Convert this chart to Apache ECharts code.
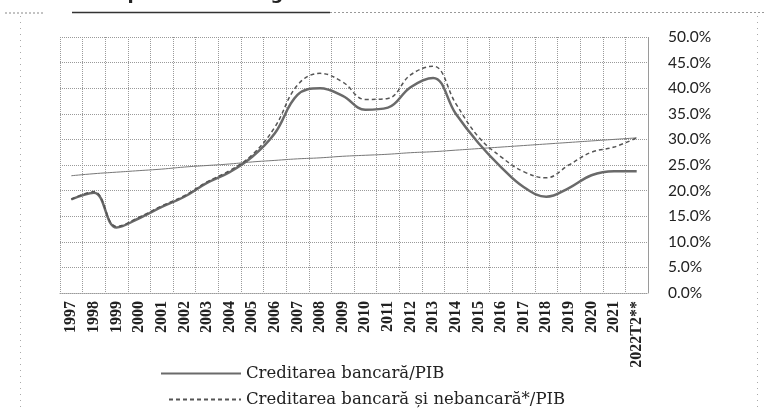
<!DOCTYPE html>
<html>
<head>
<meta charset="utf-8">
<script src="https://cdn.jsdelivr.net/npm/echarts@6/dist/echarts.min.js"></script>
<style>html,body{margin:0;padding:0;background:#fff}#c{width:765px;height:411px}</style>
</head>
<body>
<div id="c"></div>
<script>
const categories = ['1997','1998','1999','2000','2001','2002','2003','2004','2005','2006','2007','2008','2009','2010','2011','2012','2013','2014','2015','2016','2017','2018','2019','2020','2021','2022T2**'];
const bankCredit = [18.3,19.6,12.8,14.6,16.8,18.8,21.5,23.6,26.6,31.2,38.7,40.0,38.5,35.8,36.2,40.2,42.0,35.0,29.3,24.6,20.7,18.8,20.5,23.0,23.8,23.8];
const bankNonBankCredit = [18.3,19.8,13.0,14.8,17.0,19.0,21.7,23.9,27.0,32.4,40.6,42.9,41.2,37.8,38.0,42.6,44.3,37.0,30.5,26.6,23.7,22.5,25.0,27.5,28.5,30.3];
const trend = [22.9,23.3,23.6,23.9,24.2,24.6,24.9,25.2,25.6,25.9,26.2,26.4,26.7,26.9,27.1,27.4,27.6,27.9,28.2,28.5,28.8,29.1,29.4,29.7,30.0,30.3];
const seriesNames = ['Creditarea bancară/PIB','Creditarea bancară și nebancară*/PIB'];
const titleText = 'Creditarea pe termen lung';

const chart = echarts.init(document.getElementById('c'), null, {renderer:'canvas'});
const gridColor = '#9a9a9a';
const legendText = {fontFamily:'DejaVu Serif', fontSize:16.5, color:'#222'};
chart.setOption({
  animation:false,
  backgroundColor:'#fff',
  grid:{left:60,right:117,top:37,bottom:118,containLabel:false},
  legend:[
    {left:155, top:360, itemWidth:80, itemHeight:12, data:[seriesNames[0]],
     itemStyle:{opacity:0}, textStyle:legendText},
    {left:163, top:386, itemWidth:72, itemHeight:12, data:[seriesNames[1]],
     itemStyle:{opacity:0}, textStyle:legendText}
  ],
  xAxis:{
    type:'category', data:categories, boundaryGap:true,
    axisLine:{show:true,lineStyle:{color:gridColor,type:'dotted',width:1}},
    axisTick:{show:false},
    axisLabel:{rotate:90, interval:0, margin:8, fontFamily:'Liberation Serif', fontWeight:'bold', fontSize:16, color:'#222'},
    splitLine:{show:true, interval:0, lineStyle:{color:gridColor,type:'dotted',width:1}}
  },
  yAxis:{
    type:'value', position:'right', min:0, max:50, interval:5,
    axisLine:{show:true,lineStyle:{color:gridColor,type:'dotted',width:1}},
    axisTick:{show:false},
    axisLabel:{margin:20, fontFamily:'Lato', fontSize:15.5, color:'#222', formatter:v=>v.toFixed(1)+'%'},
    splitLine:{show:true, lineStyle:{color:gridColor,type:'dotted',width:1}}
  },
  series:[
    {name:seriesNames[0], type:'line', data:bankCredit, smooth:0.4, symbol:'none',
     lineStyle:{color:'#6a6a6a', width:2.5, type:'solid'}, itemStyle:{color:'#6a6a6a'}, z:3},
    {name:seriesNames[1], type:'line', data:bankNonBankCredit, smooth:0.4, symbol:'none',
     lineStyle:{color:'#555', width:1.5, type:[4,3]}, itemStyle:{color:'#555'}, z:4},
    {name:'trend', type:'line', data:trend, smooth:true, symbol:'none',
     lineStyle:{color:'#777', width:1, type:'solid'}, itemStyle:{color:'#777'}, z:2}
  ],
  graphic:[
    {type:'text', left:14, top:-15, style:{text:titleText, fontFamily:'DejaVu Sans', fontWeight:'bold', fontSize:18, fill:'#222'}},
    {type:'line', shape:{x1:5,y1:13,x2:45,y2:13}, style:{stroke:'#888',lineWidth:1,lineDash:[2,2]}},
    {type:'line', shape:{x1:72,y1:12.5,x2:330,y2:12.5}, style:{stroke:'#333',lineWidth:1.5}},
    {type:'line', shape:{x1:330,y1:12.5,x2:765,y2:12.5}, style:{stroke:'#999',lineWidth:1,lineDash:[2,2]}},
    {type:'line', shape:{x1:20.5,y1:16,x2:20.5,y2:411}, style:{stroke:'#aaa',lineWidth:1,lineDash:[1,5]}},
    {type:'line', shape:{x1:757.5,y1:16,x2:757.5,y2:411}, style:{stroke:'#aaa',lineWidth:1,lineDash:[1,5]}}
  ]
});
</script>
</body>
</html>
